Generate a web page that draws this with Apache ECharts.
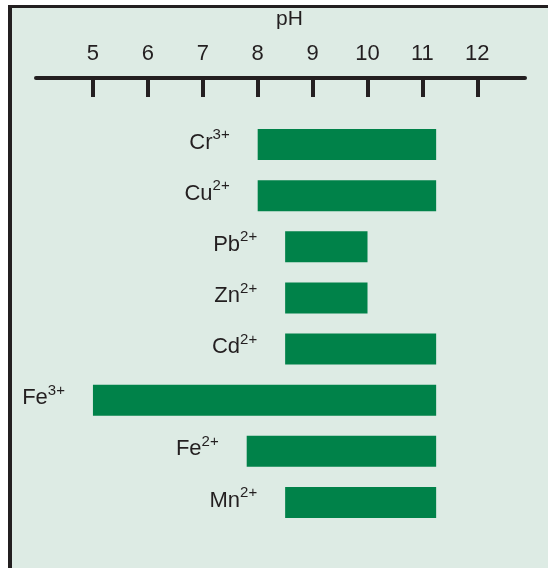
<!DOCTYPE html>
<html>
<head>
<meta charset="utf-8">
<script src="https://cdn.jsdelivr.net/npm/echarts@6/dist/echarts.min.js"></script>
<style>
  html, body { margin: 0; padding: 0; background: #fff; }
  .frame { position: absolute; left: 8px; top: 5px; width: 540px; height: 563px; box-sizing: border-box;
           border-left: 4px solid #231f20; border-top: 3px solid #231f20; background: #ddebe4; }
  #chart { position: absolute; left: 0; top: 0; width: 548px; height: 568px; }
</style>
</head>
<body>
<div class="frame"></div>
<div id="chart"></div>
<script>
// precipitation pH ranges per metal ion
const ions = ['Cr', 'Cu', 'Pb', 'Zn', 'Cd', 'Fe', 'Fe', 'Mn']
const charges = ['3+', '2+', '2+', '2+', '2+', '3+', '2+', '2+']
const lowPH = [8.0, 8.0, 8.5, 8.5, 8.5, 5.0, 7.8, 8.5]
const highPH = [11.25, 11.25, 10.0, 10.0, 11.25, 11.25, 11.25, 11.25]
const phTicks = [5, 6, 7, 8, 9, 10, 11, 12]

const categories = ions.map((n, i) => n + charges[i])
const chart = echarts.init(document.getElementById('chart'))

chart.setOption({
  animation: false,
  backgroundColor: 'transparent',
  textStyle: { fontFamily: '"Liberation Sans", Arial, sans-serif' },
  grid: { left: 36, right: 23, top: 119, bottom: 40 },
  xAxis: {
    type: 'value',
    position: 'top',
    offset: 41,
    min: 3.963,
    max: 12.868,
    name: 'pH',
    nameLocation: 'middle',
    nameGap: 48,
    nameTextStyle: { fontSize: 21, color: '#231f20', padding: [0, 0, 0, 18] },
    splitLine: { show: false },
    axisLine: { show: true, lineStyle: { color: '#231f20', width: 4 } },
    axisTick: { show: true, inside: true, length: 19, customValues: phTicks, lineStyle: { color: '#231f20', width: 4 } },
    axisLabel: { customValues: phTicks, fontSize: 22, color: '#231f20', margin: 13 }
  },
  yAxis: {
    type: 'category',
    inverse: true,
    data: categories,
    show: false
  },
  series: [
    {
      type: 'bar',
      stack: 'range',
      data: lowPH,
      barWidth: 31,
      itemStyle: { color: 'transparent' },
      silent: true
    },
    {
      type: 'bar',
      stack: 'range',
      data: highPH.map((h, i) => +(h - lowPH[i]).toFixed(2)),
      barWidth: 31,
      itemStyle: { color: '#008249' },
      label: {
        show: true,
        position: 'left',
        distance: 28,
        offset: [0, -4],
        formatter: p => `{m|${ions[p.dataIndex]}}{s|${charges[p.dataIndex]}}`,
        rich: {
          m: { fontSize: 22, color: '#231f20', lineHeight: 26, verticalAlign: 'bottom' },
          s: { fontSize: 15, color: '#231f20', lineHeight: 26, verticalAlign: 'top' }
        }
      }
    }
  ]
})
</script>
</body>
</html>
